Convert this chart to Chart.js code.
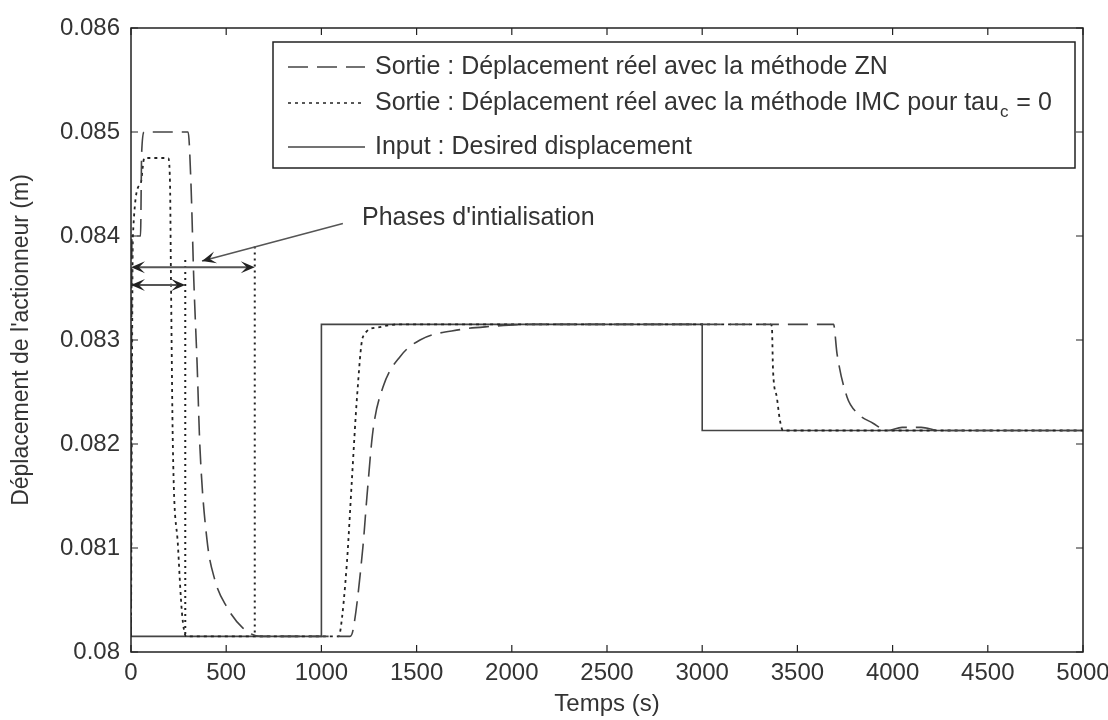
<!DOCTYPE html>
<html>
<head>
<meta charset="utf-8">
<script src="https://cdn.jsdelivr.net/npm/chart.js@4"></script>
<style>
  html, body { margin: 0; padding: 0; background: #fff; }
  canvas { display: block; }
</style>
</head>
<body>
<canvas id="chart" width="1108" height="720"></canvas>
<script>
// values (time in s, displacement in m)
const inputTime = [0, 1000, 1000, 3000, 3000, 5000];
const inputValue = [0.08015, 0.08015, 0.08315, 0.08315, 0.08213, 0.08213];

const znTime = [0, 5, 50, 56, 70, 300, 315, 330, 347, 362, 399, 441, 504, 588, 680,
  1150, 1166, 1218, 1239, 1271, 1324, 1413, 1518, 1728, 1886, 2100,
  3690, 3708, 3761, 3813, 3897, 3971, 4050, 4150, 4250, 5000];
const znValue = [0.08015, 0.0840, 0.0840, 0.0848, 0.0850, 0.0850, 0.0845, 0.08357, 0.08278, 0.08197, 0.08108, 0.08069, 0.08043, 0.08023, 0.08015,
  0.08015, 0.08021, 0.08101, 0.08149, 0.08213, 0.08255, 0.08284, 0.08300, 0.08310, 0.08313, 0.08315,
  0.08315, 0.08287, 0.08245, 0.08230, 0.08220, 0.08213, 0.08216, 0.08216, 0.08213, 0.08213];

const imcTime = [0, 10, 50, 70, 195, 205, 210, 220, 247, 268, 290,
  1090, 1100, 1134, 1160, 1187, 1218, 1292, 1400,
  3360, 3366, 3372, 3392, 3408, 3424, 5000];
const imcValue = [0.08015, 0.0840, 0.0845, 0.08475, 0.08475, 0.0845, 0.08357, 0.08197, 0.08101, 0.08037, 0.08015,
  0.08015, 0.08021, 0.08086, 0.08165, 0.08245, 0.08303, 0.08312, 0.08315,
  0.08315, 0.08313, 0.08271, 0.08245, 0.08223, 0.08213, 0.08213];

const xTicks = [0, 500, 1000, 1500, 2000, 2500, 3000, 3500, 4000, 4500, 5000];
const yTicks = [0.080, 0.081, 0.082, 0.083, 0.084, 0.085, 0.086];

const legendLabels = [
  'Sortie : Déplacement réel avec la méthode ZN',
  'Sortie : Déplacement réel avec la méthode IMC pour tau',
  'Input : Desired displacement'
];

// annotation "Phases d'intialisation"
const phaseEnds = [285, 650];
const phaseArrowValue = [0.08353, 0.0837];
const phaseMarkerTop = [0.08377, 0.08390];
const phaseLabel = "Phases d'intialisation";
const phaseLabelAt = [1213, 0.08417];
const phasePointerFrom = [1113, 0.08412];
const phasePointerTo = [373, 0.08376];

const zip = (xs, ys) => xs.map((x, i) => ({ x: x, y: ys[i] }));

const ZN_DASH = [20, 9];
const IMC_DASH = [3, 4];
const FONT = '"Liberation Sans", Arial, sans-serif';
const TEXT = '#333';

function arrowHead(ctx, x, y, ang) {
  const len = 14, w = 6, back = 8;
  ctx.save();
  ctx.translate(x, y);
  ctx.rotate(ang);
  ctx.beginPath();
  ctx.moveTo(0, 0);
  ctx.lineTo(-len, -w);
  ctx.lineTo(-back, 0);
  ctx.lineTo(-len, w);
  ctx.closePath();
  ctx.fill();
  ctx.restore();
}

const decorPlugin = {
  id: 'decor',
  beforeDraw(chart) {
    const ctx = chart.ctx;
    ctx.save();
    ctx.fillStyle = '#fff';
    ctx.fillRect(0, 0, chart.width, chart.height);
    ctx.restore();
  },
  afterDatasetsDraw(chart) {
    const ctx = chart.ctx;
    const a = chart.chartArea;
    const xs = chart.scales.x, ys = chart.scales.y;
    ctx.save();

    // phase markers + double arrows
    ctx.strokeStyle = '#222';
    ctx.fillStyle = '#222';
    ctx.lineWidth = 2;
    ctx.setLineDash([2, 4]);
    phaseEnds.forEach((t, i) => {
      ctx.beginPath();
      ctx.moveTo(xs.getPixelForValue(t), ys.getPixelForValue(phaseMarkerTop[i]));
      ctx.lineTo(xs.getPixelForValue(t), ys.getPixelForValue(0.08015));
      ctx.stroke();
    });
    ctx.setLineDash([]);
    ctx.lineWidth = 2;
    ctx.strokeStyle = '#555';
    phaseEnds.forEach((t, i) => {
      const y = ys.getPixelForValue(phaseArrowValue[i]);
      const x0 = xs.getPixelForValue(0), x1 = xs.getPixelForValue(t);
      ctx.beginPath();
      ctx.moveTo(x0 + 6, y);
      ctx.lineTo(x1 - 6, y);
      ctx.stroke();
      arrowHead(ctx, x0, y, Math.PI);
      arrowHead(ctx, x1, y, 0);
    });
    // pointer from the label
    const px0 = xs.getPixelForValue(phasePointerFrom[0]), py0 = ys.getPixelForValue(phasePointerFrom[1]);
    const px1 = xs.getPixelForValue(phasePointerTo[0]), py1 = ys.getPixelForValue(phasePointerTo[1]);
    ctx.lineWidth = 1.5;
    ctx.beginPath();
    ctx.moveTo(px0, py0);
    ctx.lineTo(px1, py1);
    ctx.stroke();
    arrowHead(ctx, px1, py1, Math.atan2(py1 - py0, px1 - px0));
    ctx.fillStyle = TEXT;
    ctx.font = '25px ' + FONT;
    ctx.textBaseline = 'middle';
    ctx.textAlign = 'left';
    ctx.fillText(phaseLabel, xs.getPixelForValue(phaseLabelAt[0]), ys.getPixelForValue(phaseLabelAt[1]));

    // box and inward ticks
    ctx.strokeStyle = '#222';
    ctx.lineWidth = 1.5;
    ctx.strokeRect(a.left, a.top, a.right - a.left, a.bottom - a.top);
    ctx.lineWidth = 1.2;
    const tl = 7;
    xTicks.forEach(t => {
      const x = xs.getPixelForValue(t);
      ctx.beginPath();
      ctx.moveTo(x, a.bottom); ctx.lineTo(x, a.bottom - tl);
      ctx.moveTo(x, a.top); ctx.lineTo(x, a.top + tl);
      ctx.stroke();
    });
    yTicks.forEach(v => {
      const y = ys.getPixelForValue(v);
      ctx.beginPath();
      ctx.moveTo(a.left, y); ctx.lineTo(a.left + tl, y);
      ctx.moveTo(a.right, y); ctx.lineTo(a.right - tl, y);
      ctx.stroke();
    });

    // legend box
    const lx = a.left + 142, ly = a.top + 14, lw = a.right - 8 - lx, lh = 126;
    ctx.fillStyle = '#fff';
    ctx.fillRect(lx, ly, lw, lh);
    ctx.strokeStyle = '#222';
    ctx.lineWidth = 1.5;
    ctx.strokeRect(lx, ly, lw, lh);
    const rows = [ly + 25, ly + 61, ly + 105];
    const styles = [
      { dash: ZN_DASH, color: '#444', width: 1.6 },
      { dash: IMC_DASH, color: '#222', width: 1.6 },
      { dash: [], color: '#444', width: 1.6 }
    ];
    ctx.textBaseline = 'middle';
    rows.forEach((ry, i) => {
      ctx.strokeStyle = styles[i].color;
      ctx.lineWidth = styles[i].width;
      ctx.setLineDash(styles[i].dash);
      ctx.beginPath();
      ctx.moveTo(lx + 15, ry);
      ctx.lineTo(lx + 92, ry);
      ctx.stroke();
      ctx.setLineDash([]);
      ctx.fillStyle = TEXT;
      const tx = lx + 102;
      ctx.font = '25px ' + FONT;
      ctx.fillText(legendLabels[i], tx, ry);
      if (i === 1) {
        let w = ctx.measureText(legendLabels[i]).width;
        ctx.font = '17px ' + FONT;
        ctx.fillText('c', tx + w + 1, ry + 9);
        w += ctx.measureText('c').width + 2;
        ctx.font = '25px ' + FONT;
        ctx.fillText(' = 0', tx + w, ry);
      }
    });
    ctx.restore();
  }
};

new Chart(document.getElementById('chart'), {
  type: 'line',
  data: {
    datasets: [
      {
        label: legendLabels[0],
        data: zip(znTime, znValue),
        borderColor: '#444', borderWidth: 1.6, borderDash: ZN_DASH,
        pointRadius: 0, fill: false, cubicInterpolationMode: 'monotone'
      },
      {
        label: legendLabels[1],
        data: zip(imcTime, imcValue),
        borderColor: '#222', borderWidth: 1.8, borderDash: IMC_DASH,
        pointRadius: 0, fill: false, cubicInterpolationMode: 'monotone'
      },
      {
        label: legendLabels[2],
        data: zip(inputTime, inputValue),
        borderColor: '#444', borderWidth: 1.6,
        pointRadius: 0, fill: false, tension: 0
      }
    ]
  },
  options: {
    responsive: false,
    animation: false,
    events: [],
    layout: { padding: { top: 28, right: 25, left: 0, bottom: 0 } },
    plugins: { legend: { display: false }, tooltip: { enabled: false } },
    scales: {
      x: {
        type: 'linear', min: 0, max: 5000,
        afterBuildTicks: s => { s.ticks = xTicks.map(v => ({ value: v })); },
        ticks: { color: TEXT, font: { family: FONT, size: 24 }, padding: 7, maxRotation: 0, callback: v => String(v) },
        grid: { display: false, drawTicks: false },
        border: { display: false },
        title: { display: true, text: 'Temps (s)', color: TEXT, font: { family: FONT, size: 24 }, padding: { top: 0, bottom: 1 } },
        afterFit: s => { s.height = 68; s.paddingLeft = 0; s.paddingRight = 0; }
      },
      y: {
        type: 'linear', min: 0.08, max: 0.086,
        afterBuildTicks: s => { s.ticks = yTicks.map(v => ({ value: v })); },
        ticks: {
          color: TEXT, font: { family: FONT, size: 24 }, padding: 11,
          callback: v => String(parseFloat(v.toFixed(3)))
        },
        grid: { display: false, drawTicks: false },
        border: { display: false },
        title: { display: true, text: "Déplacement de l'actionneur (m)", color: TEXT, font: { family: FONT, size: 23 }, padding: { top: 8, bottom: 0 } },
        afterFit: s => { s.width = 131; s.paddingTop = 0; s.paddingBottom = 0; }
      }
    }
  },
  plugins: [decorPlugin]
});
</script>
</body>
</html>
